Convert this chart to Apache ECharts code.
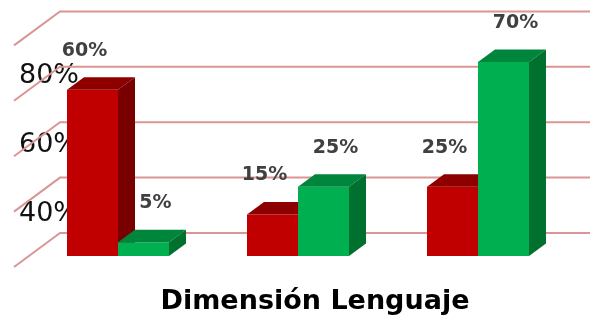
<!DOCTYPE html>
<html>
<head>
<meta charset="utf-8">
<script src="https://cdn.jsdelivr.net/npm/echarts@6/dist/echarts.min.js"></script>
<style>
  html, body { margin: 0; padding: 0; background: #fff; }
  #chart { width: 590px; height: 319px; }
</style>
</head>
<body>
<div id="chart"></div>
<script>
// chart data
var categories = ['Grupo 1', 'Grupo 2', 'Grupo 3'];
var redValues = [60, 15, 25];
var greenValues = [5, 25, 70];
var gridTicks = [0, 20, 40, 60, 80];
var axisTickLabels = [40, 60, 80];
var titleText = 'Dimensión Lenguaje';

var FONT = '"DejaVu Sans", sans-serif';
var DEPTH_X = 17, DEPTH_Y = -12.5;   // bar depth
var BAR_W = 51;

function barRenderer(side, colors, labelShift) {
  return function (params, api) {
    var i = api.value(0);
    var v = api.value(1);
    var top = api.coord([i, v]);
    var base = api.coord([i, 0]);
    var x0 = side < 0 ? top[0] - BAR_W : top[0];
    var yt = top[1], yb = base[1];
    return {
      type: 'group',
      children: [
        { type: 'rect', shape: { x: x0, y: yt, width: BAR_W, height: yb - yt }, style: { fill: colors[0] } },
        { type: 'polygon', shape: { points: [[x0, yt], [x0 + DEPTH_X, yt + DEPTH_Y], [x0 + BAR_W + DEPTH_X, yt + DEPTH_Y], [x0 + BAR_W, yt]] }, style: { fill: colors[1] } },
        { type: 'polygon', shape: { points: [[x0 + BAR_W, yt], [x0 + BAR_W + DEPTH_X, yt + DEPTH_Y], [x0 + BAR_W + DEPTH_X, yb + DEPTH_Y], [x0 + BAR_W, yb]] }, style: { fill: colors[2] } },
        {
          type: 'text',
          style: {
            x: x0 + BAR_W / 2 + labelShift, y: yt - 39,
            text: v + '%', align: 'center', verticalAlign: 'middle',
            font: 'bold 19px ' + FONT, fill: '#404040'
          }
        }
      ]
    };
  };
}

var chart = echarts.init(document.getElementById('chart'));
var option = {
  backgroundColor: '#fff',
  animation: false,
  grid: { left: 28, right: 22, top: 34.4, bottom: 63 },
  xAxis: { type: 'category', data: categories, show: false },
  yAxis: [
    { type: 'value', min: 0, max: 80, interval: 20, show: false },
    {
      type: 'value', min: 27.83, max: 92.06, position: 'left', offset: -56,
      axisLine: { show: false }, axisTick: { show: false }, splitLine: { show: false },
      axisLabel: {
        customValues: axisTickLabels, formatter: '{value}%', margin: 5,
        fontFamily: FONT, fontSize: 27, color: '#111'
      }
    }
  ],
  graphic: [{
    type: 'text', x: 315, y: 302,
    style: { text: titleText, font: 'bold 27px ' + FONT, fill: '#000', align: 'center', verticalAlign: 'middle' }
  }],
  series: [
    {
      // walls with gridlines
      type: 'custom', z: 1, silent: true,
      data: gridTicks.map(function (t) { return [0, t]; }),
      renderItem: function (params, api) {
        var cs = params.coordSys;
        var y = api.coord([0, api.value(1)])[1];
        return {
          type: 'polyline',
          shape: { points: [[cs.x - 14, y + 11], [cs.x + 32, y - 23], [cs.x + cs.width + 80, y - 23]] },
          style: { stroke: '#D99694', lineWidth: 2, fill: null }
        };
      }
    },
    {
      name: 'Rojo', type: 'custom', z: 2,
      data: redValues.map(function (v, i) { return [i, v]; }),
      renderItem: barRenderer(-1, ['#C00000', '#8E0000', '#780000'], -8)
    },
    {
      name: 'Verde', type: 'custom', z: 3,
      data: greenValues.map(function (v, i) { return [i, v]; }),
      renderItem: barRenderer(1, ['#00B050', '#00853D', '#00702F'], 12)
    }
  ]
};
chart.setOption(option);
</script>
</body>
</html>
